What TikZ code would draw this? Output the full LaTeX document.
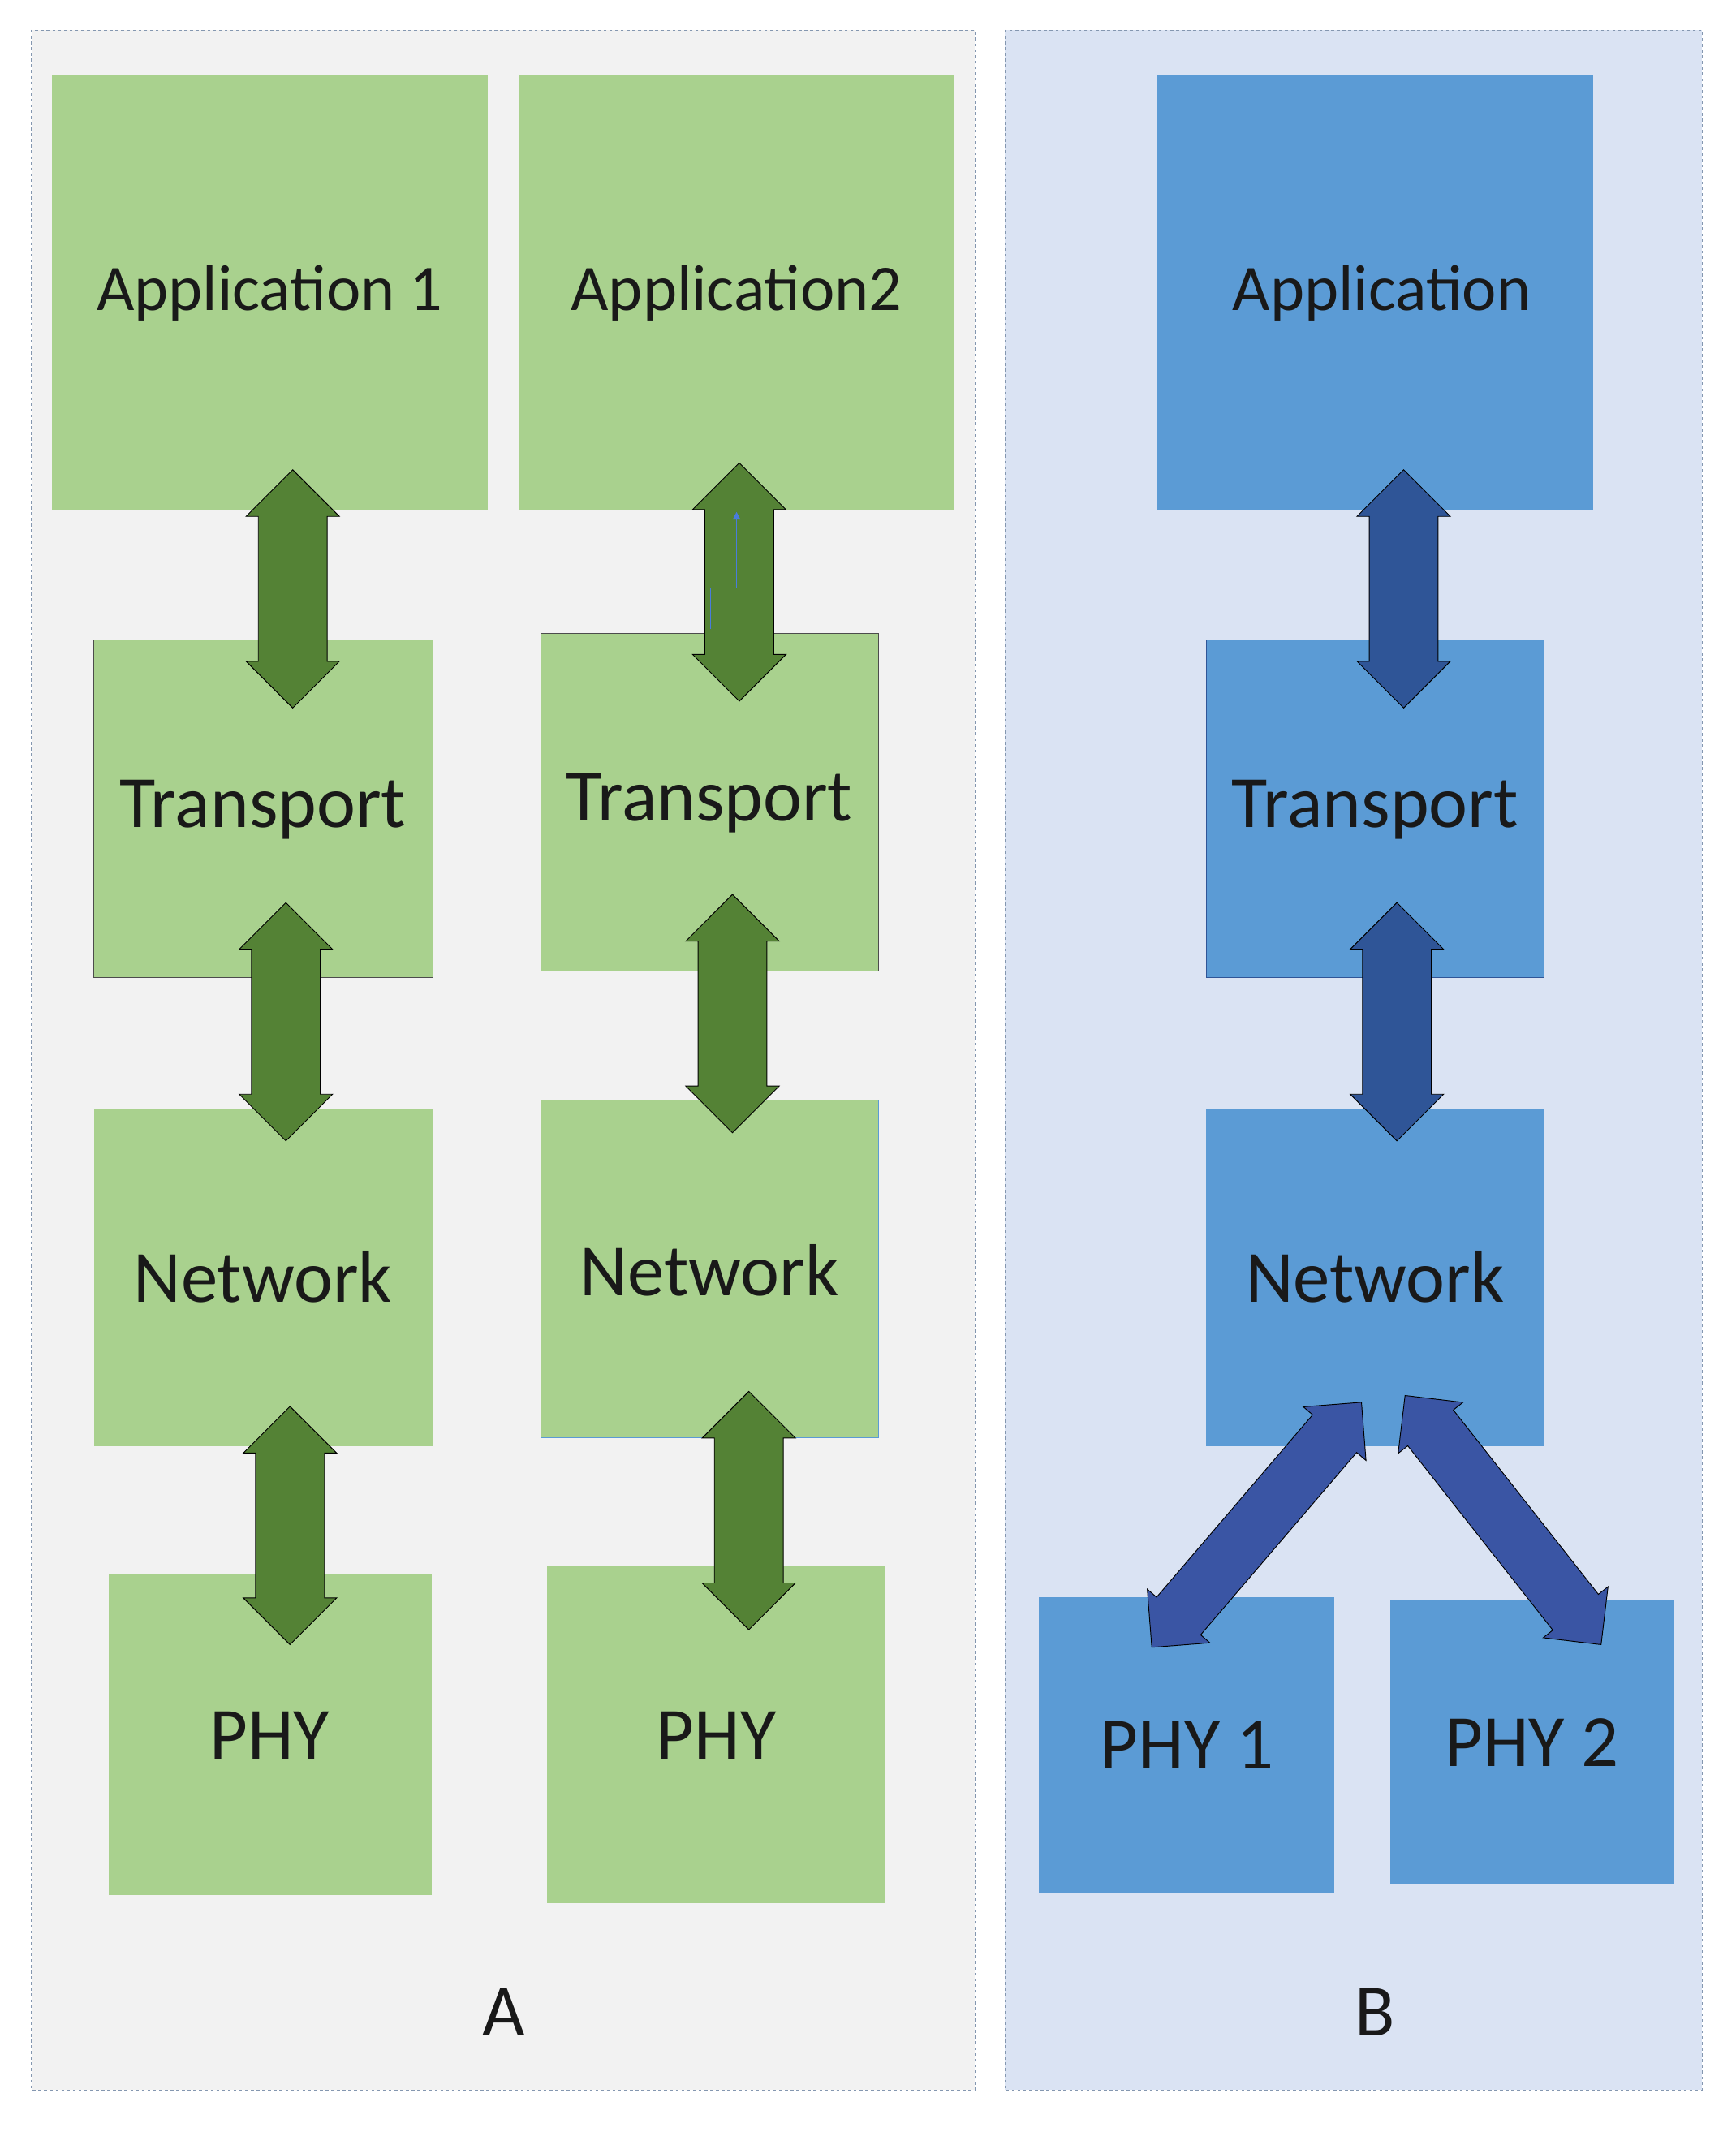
\documentclass[tikz,border=0pt]{standalone}
\usepackage{fontspec}
\setmainfont{Carlito}
\usetikzlibrary{shapes.arrows,calc,arrows.meta}
\definecolor{gbox}{HTML}{A9D18E}
\definecolor{garr}{HTML}{548235}
\definecolor{bbox}{HTML}{5B9BD5}
\definecolor{barr}{HTML}{2F5597}
\definecolor{barr2}{HTML}{3A55A4}
\definecolor{pA}{HTML}{F2F2F2}
\definecolor{pB}{HTML}{DAE3F3}
\definecolor{pedge}{HTML}{8497B0}
\begin{document}
\begin{tikzpicture}[x=0.05cm,y=-0.05cm,
 panel/.style={draw=pedge,dashed,line width=0.6pt},
 lbl/.style={font=\fontsize{77}{80}\selectfont,text=black!90},
 albl/.style={font=\fontsize{68}{72}\selectfont,text=black!90},
 darrow/.style={double arrow,draw=black,line width=0.8pt,inner xsep=0pt,inner ysep=1.25cm,minimum width=0pt,double arrow head extend=0.45cm,double arrow head indent=0pt}]
\useasboundingbox (0,0) rectangle (1275,1566);
\fill[white] (0,0) rectangle (1275,1566);
\draw[panel,fill=pA] (23,22) rectangle (716,1535);
\draw[panel,fill=pB] (738,22) rectangle (1250,1535);
% boxes A
\fill[gbox] (38,55) rectangle (358,375);
\fill[gbox] (381,55) rectangle (701,375);
\filldraw[fill=gbox,draw=black!70,line width=0.5pt] (69,470) rectangle (318,718);
\filldraw[fill=gbox,draw=black!70,line width=0.5pt] (397,465) rectangle (645,713);
\fill[gbox] (69,814) rectangle (318,1062);
\filldraw[fill=gbox,draw=bbox,line width=0.5pt] (397,808) rectangle (645,1056);
\fill[gbox] (80,1156) rectangle (317,1392);
\fill[gbox] (402,1150) rectangle (650,1398);
% boxes B
\fill[bbox] (850,55) rectangle (1170,375);
\filldraw[fill=bbox,draw=barr,line width=0.5pt] (886,470) rectangle (1134,718);
\fill[bbox] (886,814) rectangle (1134,1062);
\fill[bbox] (763,1173) rectangle (980,1390);
\fill[bbox] (1021,1175) rectangle (1230,1384);
% labels
\node[albl] (app1) at (198,215) {Application 1};
\node[albl] (app2) at (541,215) {Application2};
\node[lbl] (tr1) at (193,595) {Transport};
\node[lbl] (tr2) at (521,590) {Transport};
\node[lbl] (nw1) at (193,938) {Network};
\node[lbl] (nw2) at (521,933) {Network};
\node[lbl] (phy1) at (198,1275) {PHY};
\node[lbl] (phy2) at (526,1275) {PHY};
\node[albl] (app3) at (1015,215) {Application};
\node[lbl] (tr3) at (1010,595) {Transport};
\node[lbl] (nw3) at (1010,938) {Network};
\node[lbl] (phyb1) at (872,1282) {PHY 1};
\node[lbl] (phyb2) at (1125,1280) {PHY 2};
\node[lbl] (la) at (370,1478) {A};
\node[lbl] (lb) at (1010,1478) {B};
% arrows
\newcommand{\darr}[4]{%
 \path let \p1=(#1),\p2=(#2),\n1={veclen(\x2-\x1,\y2-\y1)},\n2={atan2(\y2-\y1,\x2-\x1)} in
 node[darrow,fill=#3,minimum height=\n1,rotate=\n2#4] at ($(#1)!0.5!(#2)$) {};}
\coordinate (a1) at (215,345); \coordinate (a2) at (215,520);
\coordinate (a3) at (210,663); \coordinate (a4) at (210,838);
\coordinate (a5) at (213,1033); \coordinate (a6) at (213,1208);
\coordinate (b1) at (543,340); \coordinate (b2) at (543,515);
\coordinate (b3) at (538,657); \coordinate (b4) at (538,832);
\coordinate (b5) at (550,1022); \coordinate (b6) at (550,1197);
\coordinate (c1) at (1031,345); \coordinate (c2) at (1031,520);
\coordinate (c3) at (1026,663); \coordinate (c4) at (1026,838);
\coordinate (c5) at (1000,1030); \coordinate (c6) at (846,1210);
\coordinate (c7) at (1032,1025); \coordinate (c8) at (1176,1208);
\darr{a1}{a2}{garr}{}
\darr{a3}{a4}{garr}{}
\darr{a5}{a6}{garr}{}
\darr{b1}{b2}{garr}{}
\darr{b3}{b4}{garr}{}
\darr{b5}{b6}{garr}{}
\darr{c1}{c2}{barr}{}
\darr{c3}{c4}{barr}{}
\darr{c5}{c6}{barr2}{,inner ysep=1.05cm}
\darr{c7}{c8}{barr2}{,inner ysep=1.05cm}
% small blue connector
\coordinate (s1) at (522,462); \coordinate (s2) at (541,376);
\draw[color=bbox!80!blue,line width=1.2pt,-{Triangle[length=8pt,width=8pt]}] (s1) |- (541,432) -- (s2);
\end{tikzpicture}
\end{document}
